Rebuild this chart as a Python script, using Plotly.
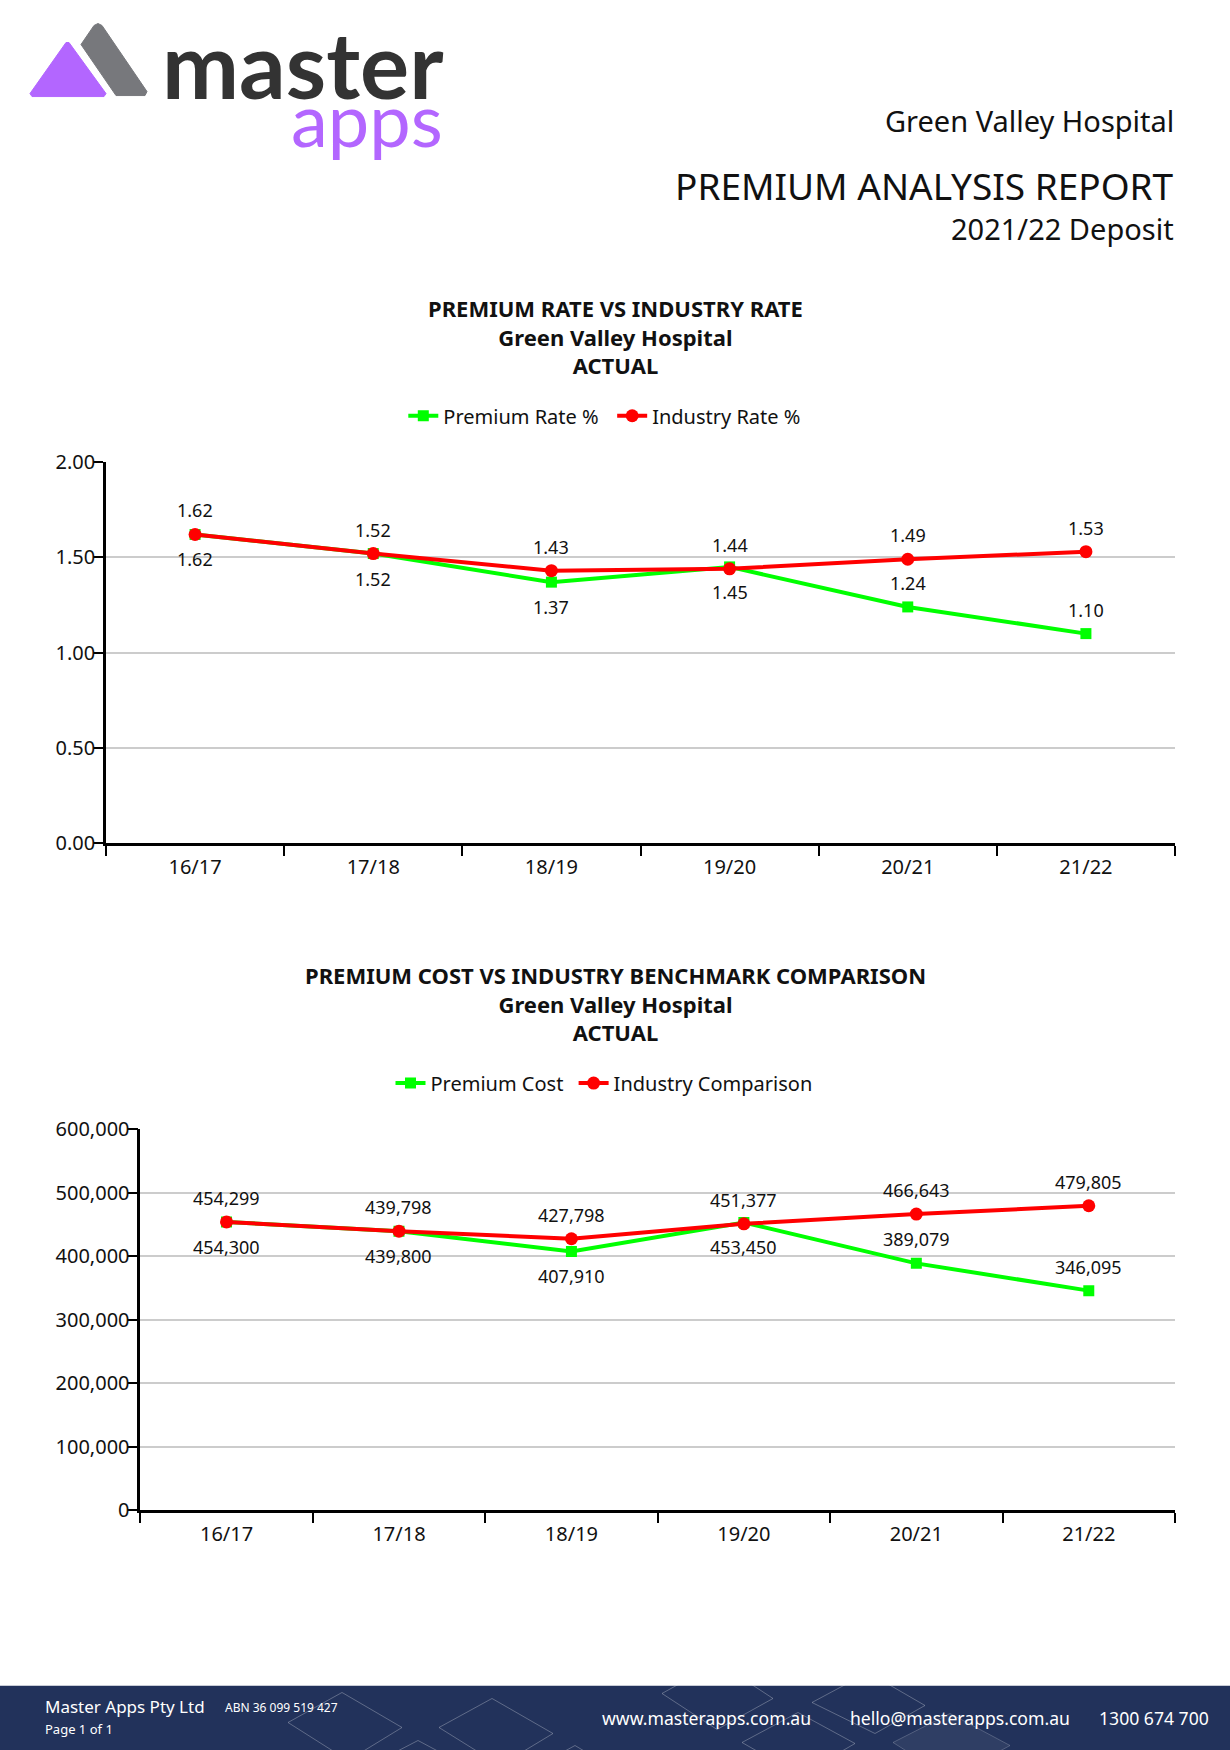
import plotly.graph_objects as go

# ---------------- data ----------------
periods = ["16/17", "17/18", "18/19", "19/20", "20/21", "21/22"]
premium_rate = [1.62, 1.52, 1.37, 1.45, 1.24, 1.10]
industry_rate = [1.62, 1.52, 1.43, 1.44, 1.49, 1.53]
premium_cost = [454300, 439800, 407910, 453450, 389079, 346095]
industry_cost = [454299, 439798, 427798, 451377, 466643, 479805]
rate_ticks = [0.0, 0.5, 1.0, 1.5, 2.0]
cost_ticks = [0, 100000, 200000, 300000, 400000, 500000, 600000]
# where the green series' value labels sit relative to its markers
premium_label_side = ["below", "below", "below", "below", "above", "above"]

W, H = 1230, 1750
FONT = "Noto Sans"
GREEN = "#00ff00"
RED = "#ff0000"
INK = "#111111"

# the page photo maps figure y -> OFF + SC*y ; compensate so marks land where intended
OFF, SC = 14.5, 0.984


def px(x):
    return x / W


def py(y):
    return 1 - ((y - OFF) / SC) / H


def path(pts, close=True):
    s = "M " + " L ".join(f"{px(x):.5f},{py(y):.5f}" for x, y in pts)
    return s + (" Z" if close else "")


fig = go.Figure()

# ---------------- chart 1 ----------------
fig.add_trace(go.Scatter(
    x=periods, y=premium_rate, name="Premium Rate %\u00a0\u2009", mode="lines+markers",
    line=dict(color=GREEN, width=4), marker=dict(symbol="square", size=11, color=GREEN),
    xaxis="x", yaxis="y", legend="legend", hoverinfo="skip"))
fig.add_trace(go.Scatter(
    x=periods, y=industry_rate, name="Industry Rate %", mode="lines+markers",
    line=dict(color=RED, width=4), marker=dict(symbol="circle", size=13, color=RED),
    xaxis="x", yaxis="y", legend="legend", hoverinfo="skip"))

# ---------------- chart 2 ----------------
fig.add_trace(go.Scatter(
    x=periods, y=premium_cost, name="Premium Cost\u00a0", mode="lines+markers",
    line=dict(color=GREEN, width=4), marker=dict(symbol="square", size=11, color=GREEN),
    xaxis="x2", yaxis="y2", legend="legend2", hoverinfo="skip"))
fig.add_trace(go.Scatter(
    x=periods, y=industry_cost, name="Industry Comparison", mode="lines+markers",
    line=dict(color=RED, width=4), marker=dict(symbol="circle", size=13, color=RED),
    xaxis="x2", yaxis="y2", legend="legend2", hoverinfo="skip"))

annotations = []
LBL = dict(family=FONT, size=18, color=INK)
UP, DOWN = 24, -25

# data labels
for i, p in enumerate(periods):
    s = UP if premium_label_side[i] == "above" else DOWN
    annotations.append(dict(x=p, y=industry_rate[i], xref="x", yref="y", text=f"{industry_rate[i]:.2f}",
                            showarrow=False, yshift=UP, font=LBL))
    annotations.append(dict(x=p, y=premium_rate[i], xref="x", yref="y", text=f"{premium_rate[i]:.2f}",
                            showarrow=False, yshift=s, font=LBL))
    annotations.append(dict(x=p, y=industry_cost[i], xref="x2", yref="y2", text=f"{industry_cost[i]:,}",
                            showarrow=False, yshift=UP, font=LBL))
    annotations.append(dict(x=p, y=premium_cost[i], xref="x2", yref="y2", text=f"{premium_cost[i]:,}",
                            showarrow=False, yshift=s, font=LBL))

# chart titles
annotations.append(dict(x=px(615), y=py(336.5), xref="paper", yref="paper", showarrow=False,
                        text="<b>PREMIUM RATE VS INDUSTRY RATE</b><br><b>Green Valley Hospital</b><br><b>ACTUAL</b>",
                        font=dict(family=FONT, size=22, color=INK), align="center", yanchor="middle"))
annotations.append(dict(x=px(615), y=py(1003.5), xref="paper", yref="paper", showarrow=False,
                        text="<b>PREMIUM COST VS INDUSTRY BENCHMARK COMPARISON</b><br><b>Green Valley Hospital</b><br><b>ACTUAL</b>",
                        font=dict(family=FONT, size=22, color=INK), align="center", yanchor="middle"))

# header text
annotations += [
    dict(x=px(1176), y=py(121), xref="paper", yref="paper", showarrow=False, xanchor="right", yanchor="middle",
         text="Green Valley Hospital", font=dict(family=FONT, size=29, color=INK)),
    dict(x=px(1176), y=py(186), xref="paper", yref="paper", showarrow=False, xanchor="right", yanchor="middle",
         text="PREMIUM ANALYSIS REPORT", font=dict(family=FONT, size=37, color=INK)),
    dict(x=px(1176), y=py(229), xref="paper", yref="paper", showarrow=False, xanchor="right", yanchor="middle",
         text="2021/22 Deposit", font=dict(family=FONT, size=29, color=INK)),
    # logo text
    dict(x=px(160), y=py(64), xref="paper", yref="paper", showarrow=False, xanchor="left", yanchor="middle",
         text="<b>master</b>", font=dict(family="Lato", size=92, color="#333333")),
    dict(x=px(289), y=py(119), xref="paper", yref="paper", showarrow=False, xanchor="left", yanchor="middle",
         text="apps", font=dict(family="Lato", size=74, color="#b366ff")),
]

# footer text
WHITE = "#ffffff"
annotations += [
    dict(x=px(43), y=py(1706), xref="paper", yref="paper", showarrow=False, xanchor="left", yanchor="middle",
         text="Master Apps Pty Ltd", font=dict(family=FONT, size=17, color=WHITE)),
    dict(x=px(223), y=py(1707), xref="paper", yref="paper", showarrow=False, xanchor="left", yanchor="middle",
         text="ABN 36 099 519 427", font=dict(family=FONT, size=12, color=WHITE)),
    dict(x=px(43), y=py(1729), xref="paper", yref="paper", showarrow=False, xanchor="left", yanchor="middle",
         text="Page 1 of 1", font=dict(family=FONT, size=13, color=WHITE)),
    dict(x=px(600), y=py(1718), xref="paper", yref="paper", showarrow=False, xanchor="left", yanchor="middle",
         text="www.masterapps.com.au", font=dict(family=FONT, size=17.6, color=WHITE)),
    dict(x=px(848), y=py(1718), xref="paper", yref="paper", showarrow=False, xanchor="left", yanchor="middle",
         text="hello@masterapps.com.au", font=dict(family=FONT, size=17.6, color=WHITE)),
    dict(x=px(1211), y=py(1718), xref="paper", yref="paper", showarrow=False, xanchor="right", yanchor="middle",
         text="1300 674 700", font=dict(family=FONT, size=17.6, color=WHITE)),
]

# ---------------- shapes ----------------
shapes = []
# logo
shapes.append(dict(type="path", xref="paper", yref="paper",
                   path=path([(66, 43), (69, 43), (106, 94), (104, 97), (32, 97), (30, 94)]),
                   fillcolor="#b366ff", line=dict(color="#b366ff", width=1)))
shapes.append(dict(type="path", xref="paper", yref="paper",
                   path=path([(81, 45), (94, 26), (98, 24), (102, 26), (147, 92), (145, 96), (116, 96)]),
                   fillcolor="#77787c", line=dict(color="#77787c", width=1)))
# footer band
shapes.append(dict(type="rect", xref="paper", yref="paper", x0=0, x1=1, y0=-0.05, y1=py(1685),
                   fillcolor="#22325b", line=dict(width=0)))
diamonds = [
    ((288, 1722), (342, 1692), (402, 1727), (348, 1760)),
    ((439, 1727), (492, 1698), (553, 1733), (500, 1765)),
    ((360, 1770), (418, 1740), (478, 1772), (418, 1800)),
    ((520, 1775), (575, 1745), (630, 1778), (575, 1805)),
    ((662, 1693), (718, 1662), (773, 1698), (717, 1729)),
    ((812, 1702), (868, 1672), (925, 1705), (875, 1733)),
    ((742, 1742), (798, 1712), (855, 1743), (800, 1775)),
]
for d in diamonds:
    shapes.append(dict(type="path", xref="paper", yref="paper", path=path(list(d)),
                       line=dict(color="rgba(255,255,255,0.28)", width=1)))
shapes.append(dict(type="path", xref="paper", yref="paper",
                   path=path([(893, 1742), (950, 1713), (1010, 1745), (950, 1778)]),
                   fillcolor="rgba(255,255,255,0.06)", line=dict(color="rgba(255,255,255,0.2)", width=1)))
shapes.append(dict(type="rect", xref="paper", yref="paper", x0=0, x1=1, y0=py(1685), y1=py(1600),
                   fillcolor="#ffffff", line=dict(width=0)))

axis_common = dict(showline=True, linecolor="black", linewidth=2.5, ticks="outside",
                   ticklen=10, tickwidth=2, tickcolor="black", zeroline=False,
                   tickfont=dict(family=FONT, size=20, color=INK), fixedrange=True)

fig.update_layout(
    width=W, height=H, autosize=False,
    margin=dict(l=0, r=0, t=0, b=0),
    paper_bgcolor="white", plot_bgcolor="white",
    font=dict(family=FONT, color=INK),
    xaxis=dict(domain=[px(106), px(1175)], anchor="y", type="category",
               range=[-0.5, 5.5], tickson="boundaries", showgrid=False,
               ticklabelstandoff=4, **axis_common),
    yaxis=dict(domain=[py(843.3), py(462.3)], anchor="x", range=[0, 2],
               tickvals=rate_ticks, ticktext=[f"{v:.2f}" for v in rate_ticks],
               showgrid=True, gridcolor="#cccccc", gridwidth=2,
               ticklabelstandoff=-6, **axis_common),
    xaxis2=dict(domain=[px(140.3), px(1175)], anchor="y2", type="category",
                range=[-0.5, 5.5], tickson="boundaries", showgrid=False,
                ticklabelstandoff=4, **axis_common),
    yaxis2=dict(domain=[py(1510), py(1129.3)], anchor="x2", range=[0, 600000],
                tickvals=cost_ticks, ticktext=[f"{v:,}" for v in cost_ticks],
                showgrid=True, gridcolor="#cccccc", gridwidth=2,
                ticklabelstandoff=-6, **axis_common),
    legend=dict(orientation="h", x=px(403.3), xanchor="left", y=py(416), yanchor="middle",
                font=dict(family=FONT, size=20, color=INK), bgcolor="rgba(0,0,0,0)"),
    legend2=dict(orientation="h", x=px(390.5), xanchor="left", y=py(1083), yanchor="middle",
                 font=dict(family=FONT, size=20, color=INK), bgcolor="rgba(0,0,0,0)"),
    annotations=annotations,
    shapes=shapes,
    showlegend=True,
)

post = (
    "var de=document.documentElement, b=document.body;"
    "de.style.margin='0';b.style.margin='0';b.style.padding='0';"
    "de.style.background='linear-gradient(to bottom, #e8e8e8 0px, #e8e8e8 2px, #ffffff 2px, "
    "#ffffff 50%, #22325b 50%, #22325b 100%)';"
    "b.style.background='transparent';"
)

fig.write_html(
    "out.html",
    config={"responsive": False, "displayModeBar": False},
    post_script=post,
)
